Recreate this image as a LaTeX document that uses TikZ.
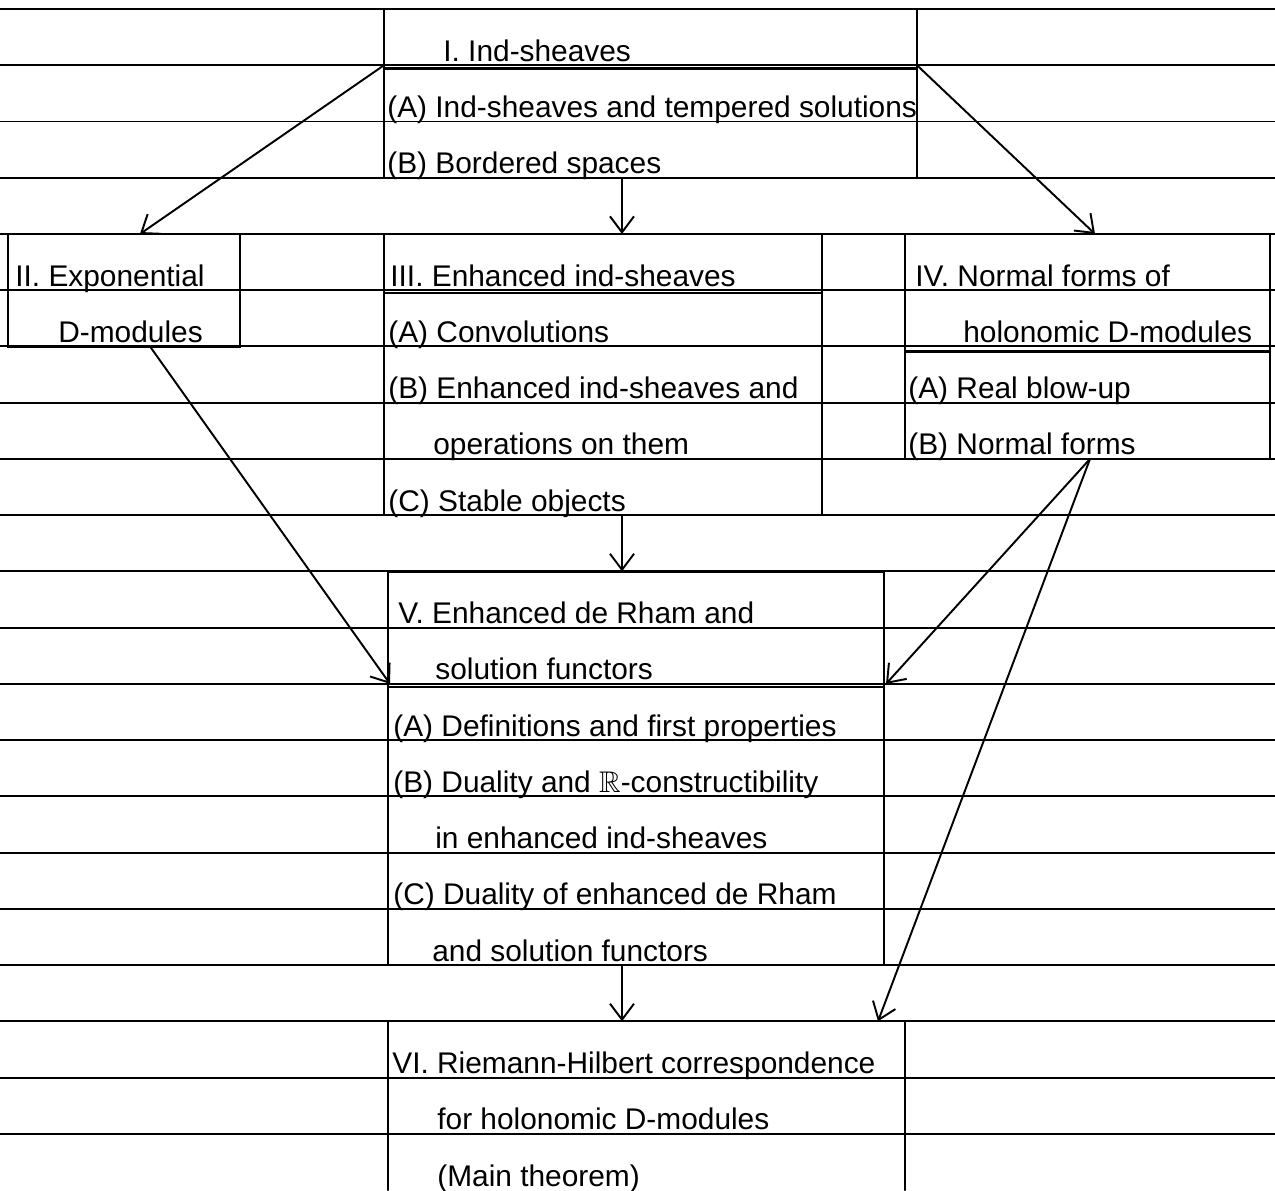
\documentclass[tikz,border=0pt]{standalone}
\usepackage{amssymb}
\usepackage{fontspec}
\setmainfont{Liberation Sans}
\usetikzlibrary{arrows.meta}
\begin{document}
\begin{tikzpicture}  % ------ Plan of the chapters on lined paper -----------
      [x=0.02cm, y=-1.125cm, line cap=round,
       ruled/.style={line width=1.1pt},
       box/.style={line width=1.3pt},
       arr/.style={line width=1.1pt, -{Straight Barb[length=3.2mm,width=4.8mm]}},
       txt/.style={anchor=base west, inner sep=0pt}]
\useasboundingbox (0,-0.16) rectangle (1275,21);
\fontsize{17}{20}\selectfont
    % lines of the paper
    \foreach \r in {0,...,20} \draw[ruled] (0,\r) -- (1275,\r);
    % boxes
    \draw[box] (384,0) rectangle (917,3);      \draw[box] (384,1.06) -- (917,1.06);
    \draw[box] (8,4) rectangle (240,6);
    \draw[box] (384,4) rectangle (822,9);      \draw[box] (384,5.05) -- (822,5.05);
    \draw[box] (905,4) rectangle (1270,8);     \draw[box] (905,6.09) -- (1270,6.09);
    \draw[box] (388,10) rectangle (884,17);    \draw[box] (388,12.05) -- (884,12.05);
    \draw[box] (388,21) -- (388,18) -- (905,18) -- (905,21);
    % I
    \node[txt] (tI)  at (443,0.93) {I. Ind-sheaves};
    \node[txt] (tIa) at (387,1.93) {(A) Ind-sheaves and tempered solutions};
    \node[txt] (tIb) at (387,2.93) {(B) Bordered spaces};
    % II
    \node[txt] (tII)  at (15,4.93) {II. Exponential};
    \node[txt] (tIIb) at (58,5.93) {D-modules};
    % III
    \node[txt] (tIII)  at (390,4.93) {III. Enhanced ind-sheaves};
    \node[txt] (tIIIa) at (388,5.93) {(A) Convolutions};
    \node[txt] (tIIIb) at (388,6.93) {(B) Enhanced ind-sheaves and};
    \node[txt] (tIIIc) at (433,7.93) {operations on them};
    \node[txt] (tIIId) at (388,8.93) {(C) Stable objects};
    % IV
    \node[txt] (tIV)  at (915,4.93) {IV. Normal forms of};
    \node[txt] (tIVb) at (963,5.93) {holonomic D-modules};
    \node[txt] (tIVc) at (908,6.93) {(A) Real blow-up};
    \node[txt] (tIVd) at (908,7.93) {(B) Normal forms};
    % V
    \node[txt] (tV)  at (398,10.93) {V. Enhanced de Rham and};
    \node[txt] (tVb) at (435,11.93) {solution functors};
    \node[txt] (tVc) at (393,12.93) {(A) Definitions and first properties};
    \node[txt] (tVd) at (393,13.93) {(B) Duality and $\mathbb{R}$-constructibility};
    \node[txt] (tVe) at (435,14.93) {in enhanced ind-sheaves};
    \node[txt] (tVf) at (393,15.93) {(C) Duality of enhanced de Rham};
    \node[txt] (tVg) at (432,16.93) {and solution functors};
    % VI
    \node[txt] (tVI)  at (392,18.93) {VI. Riemann-Hilbert correspondence};
    \node[txt] (tVIb) at (437,19.93) {for holonomic D-modules};
    \node[txt] (tVIc) at (437,20.93) {(Main theorem)};
    % ends of the arrows
    \coordinate (P1) at (384,1);    \coordinate (P2) at (917,1);
    \coordinate (P3) at (622,3);    \coordinate (P4) at (150,6);
    \coordinate (P5) at (622,9);    \coordinate (P6) at (1090,8);
    \coordinate (P7) at (622,17);
    \coordinate (Q2) at (140,4);    \coordinate (Q3) at (622,4);
    \coordinate (Q4) at (1095,4);   \coordinate (Q5) at (622,10);
    \coordinate (QL) at (390,12);   \coordinate (QR) at (886,12);
    \coordinate (Q6) at (622,18);   \coordinate (Q7) at (878,18);
    \draw[arr] (P1) -- (Q2);
    \draw[arr] (P3) -- (Q3);
    \draw[arr] (P2) -- (Q4);
    \draw[arr] (P4) -- (QL);
    \draw[arr] (P5) -- (Q5);
    \draw[arr] (P6) -- (QR);
    \draw[arr] (P6) -- (Q7);
    \draw[arr] (P7) -- (Q6);
\end{tikzpicture}
\end{document}
